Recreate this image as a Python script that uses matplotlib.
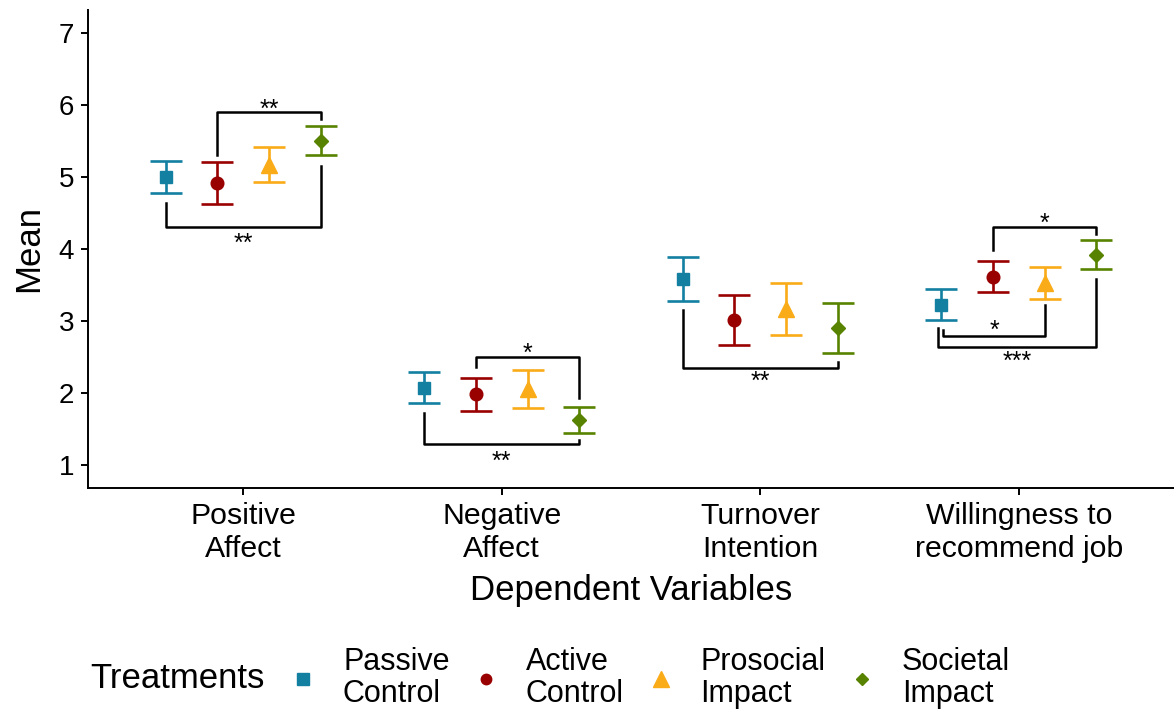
import numpy as np
import matplotlib.pyplot as plt
from matplotlib.lines import Line2D

plt.rcParams["font.family"] = ["Liberation Sans", "DejaVu Sans"]

# categories and treatment groups
variables = ["Positive\nAffect", "Negative\nAffect", "Turnover\nIntention", "Willingness to\nrecommend job"]
treatments = ["Passive\nControl", "Active\nControl", "Prosocial\nImpact", "Societal\nImpact"]
colors = ["#1380A1", "#990000", "#FAAB18", "#588300"]
markers = ["s", "o", "^", "D"]

# means per treatment (one value per dependent variable)
passive_mean = [5.00, 2.07, 3.585, 3.225]
active_mean = [4.92, 1.98, 3.015, 3.615]
prosocial_mean = [5.17, 2.055, 3.17, 3.53]
societal_mean = [5.505, 1.625, 2.905, 3.92]

# half-width of the error bars
passive_err = [0.225, 0.215, 0.305, 0.215]
active_err = [0.29, 0.23, 0.345, 0.215]
prosocial_err = [0.24, 0.265, 0.36, 0.22]
societal_err = [0.205, 0.175, 0.345, 0.20]

means = [passive_mean, active_mean, prosocial_mean, societal_mean]
errs = [passive_err, active_err, prosocial_err, societal_err]

# significance brackets: variable index, group from/to, line level, tip ends, label
br_var = [0, 0, 1, 1, 2, 3, 3, 3]
br_from = [1, 0, 1, 0, 0, 1, 0, 0]
br_to = [3, 3, 3, 3, 3, 3, 2, 3]
br_y = [5.907, 4.31, 2.50, 1.29, 2.35, 4.30, 2.79, 2.64]
br_tip1 = [5.31, 4.64, 2.36, 1.72, 3.15, 3.99, 2.875, 2.90]
br_tip2 = [5.81, 5.15, 1.93, 1.35, 2.43, 4.21, 3.22, 3.59]
br_label = ["**", "**", "*", "**", "**", "*", "*", "***"]
br_text_y = [5.83, 3.97, 2.44, 0.95, 2.06, 4.25, 2.77, 2.34]
br_nudge = [0, 0, 0, 0, 0, 0, 0.008, -0.012]

dodge = [-0.3, -0.1, 0.1, 0.3]
sizes = [9.1, 9.1, 11, 6.8]

fig = plt.figure(figsize=(11.74, 7.11), dpi=100)
ax = fig.add_axes([88 / 1174, 223 / 711, 1086 / 1174, 478 / 711])

x = np.arange(1, len(variables) + 1)
for g in range(len(treatments)):
    ax.errorbar(x + dodge[g], means[g], yerr=errs[g], fmt=markers[g], color=colors[g],
                ms=sizes[g], capsize=11.5, elinewidth=1.9, capthick=1.9)

for i in range(len(br_var)):
    x1 = br_var[i] + 1 + dodge[br_from[i]] + br_nudge[i]
    x2 = br_var[i] + 1 + dodge[br_to[i]]
    ax.plot([x1, x1, x2, x2], [br_tip1[i], br_y[i], br_y[i], br_tip2[i]], color="black", lw=1.8)
    ax.text((x1 + x2) / 2, br_text_y[i], br_label[i], ha="center", va="baseline", fontsize=18)

ax.set_xlim(0.4, 4.6)
ax.set_ylim(0.68, 7.32)
ax.set_yticks(range(1, 8))
ax.set_xticks(x)
ax.set_xticklabels(variables, linespacing=1.22)
ax.tick_params(labelsize=21.8, width=1.4, length=5, pad=5)
ax.tick_params(axis="y", labelsize=20)
for s in ["top", "right"]:
    ax.spines[s].set_visible(False)
for s in ["left", "bottom"]:
    ax.spines[s].set_linewidth(1.4)
ax.set_xlabel("Dependent Variables", fontsize=25, labelpad=8)
ax.set_ylabel("Mean", fontsize=25, labelpad=10)

handles = [Line2D([], [], marker=markers[g], color=colors[g], ls="none", ms=[8, 7.5, 11, 6][g])
           for g in range(len(treatments))]
fig.text(90 / 1174, 1 - 678 / 711, "Treatments", fontsize=25, va="center", ha="left")
leg = fig.legend(handles, treatments, loc="center left", bbox_to_anchor=(288 / 1174, 1 - 678 / 711),
                 ncol=4, frameon=False, fontsize=22, handlelength=1.0, handletextpad=0.8,
                 columnspacing=0.7, borderpad=0, borderaxespad=0)
for t in leg.get_texts():
    t.set_multialignment("left")
    t.set_linespacing(1.05)

fig.savefig("out.png", dpi=100)
